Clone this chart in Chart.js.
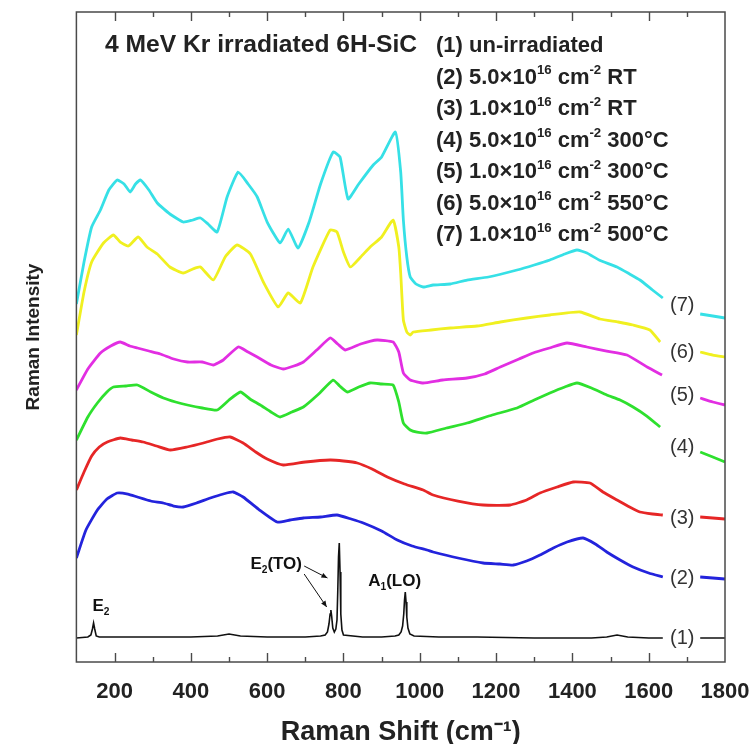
<!DOCTYPE html>
<html><head><meta charset="utf-8">
<script src="https://cdn.jsdelivr.net/npm/chart.js@4.4.1/dist/chart.umd.min.js"></script>
<style>html,body{margin:0;padding:0;background:#fff}</style>
</head><body>
<canvas id="c" width="756" height="744"></canvas>
<script>
// ---------- data (x = Raman shift cm-1, y = offset intensity, arb. units) ----------
const tickValues = [200, 400, 600, 800, 1000, 1200, 1400, 1600, 1800];
const endX = [1735, 1768, 1800];

const x7 = [100,120,140,163,185,207,225,241,255,268,290,312,345,380,405,425,445,469,495,524,550,574,600,634,655,681,710,740,773,791,812,840,878,900,936,950,957,966,975,990,1009,1035,1080,1124,1180,1255,1300,1341,1380,1412,1438,1470,1517,1550,1577,1610,1637];
const y7 = [358,400,435,452,472,482,478,470,478,482,472,459,448,440,442,444,438,430,465,490,478,465,440,419,433,414,440,478,510,505,463,478,497,505,530,490,442,405,385,378,375,377,378,382,385,392,397,402,408,412,409,402,395,388,382,372,364];
const end7 = [348, 346, 344];

const x6 = [100,120,140,171,197,215,236,262,285,312,345,380,405,425,459,490,521,556,590,629,655,687,720,765,783,800,818,845,870,900,930,945,950,957,966,975,983,1030,1080,1150,1211,1280,1341,1420,1472,1520,1559,1603,1630];
const y6 = [327,370,400,419,427,420,416,425,415,408,395,389,393,395,382,405,417,408,380,355,369,359,395,432,430,410,395,405,415,425,442,415,389,342,330,327,330,332,334,336,340,344,347,350,343,340,337,332,320];
const end6 = [310, 307, 305];

const x5 = [100,130,163,190,215,240,260,290,320,355,391,430,459,485,524,550,574,610,642,670,695,730,765,785,805,845,888,930,945,957,975,1009,1060,1124,1170,1211,1260,1297,1340,1386,1438,1490,1543,1596,1635];
const y5 = [272,293,309,316,320,316,314,311,308,303,300,300,297,302,315,310,305,297,293,296,300,312,324,318,312,318,322,320,310,289,282,279,282,284,288,295,303,309,314,319,315,311,307,295,287];
const end5 = [264, 260, 257];

const x4 = [100,130,155,180,197,230,260,295,328,360,391,430,469,500,530,555,582,610,634,665,695,735,773,790,810,840,870,900,930,945,957,975,993,1019,1070,1124,1190,1255,1300,1341,1380,1412,1450,1490,1525,1559,1595,1630];
const y4 = [222,245,259,270,275,276,277,270,264,260,257,254,252,262,270,263,257,250,245,250,255,268,282,276,270,275,279,278,277,260,239,232,230,229,234,239,247,254,262,269,275,279,274,267,262,255,246,235];
const end4 = [210, 205, 200];

const x3 = [100,120,140,160,181,215,245,275,310,346,390,433,470,503,537,570,600,642,700,765,800,836,875,915,960,1009,1035,1100,1166,1237,1280,1315,1360,1402,1446,1480,1517,1550,1577,1610,1637];
const y3 = [172,190,206,215,220,224,222,220,216,212,215,219,223,225,219,210,203,197,200,202,201,199,193,185,178,172,167,161,157,157,162,169,175,180,179,170,162,155,150,148,147];
const end3 = [145, 144, 143];

const x2 = [100,125,155,180,207,235,260,295,328,355,380,415,451,485,511,537,580,626,660,695,740,783,820,852,900,941,980,1019,1035,1100,1166,1210,1245,1280,1315,1350,1386,1428,1460,1490,1525,1559,1600,1637];
const y2 = [104,132,152,163,169,168,165,161,159,156,155,159,164,168,170,165,152,140,142,144,145,147,143,139,131,122,116,112,110,104,99,98,97,101,107,114,120,124,118,110,102,95,89,85];
const end2 = [85, 84, 83];

const x1 = [100,130,138,142,145,148,152,160,200,300,400,470,500,530,600,700,740,752,758,762,765,767,769,772,776,780,783,785,787,789,791,793,796,800,850,900,935,945,951,955,958,960,962,964,966,969,974,985,1050,1150,1300,1450,1490,1517,1545,1600,1637];
const y1 = [24,25,27,33,39,33,26,25,25,25,25,26,28,26,25,25,26,27,30,38,48,52,46,34,30,33,42,70,105,119,90,48,32,27,25,25,26,27,30,36,48,62,70,60,45,34,28,26,25,25,24,24,25,27,25,24,24];
const end1 = [24, 24, 24];

const curveLabels = ['(1)', '(2)', '(3)', '(4)', '(5)', '(6)', '(7)'];
const curveLabelY = [24, 84, 144, 215, 267, 310, 357];
const curveLabelX = 1688;

// ---------- build ----------
function series(xs, ys, ends) {
  const pts = xs.map((x, i) => ({ x: x, y: ys[i] }));
  pts.push({ x: 1700, y: null });
  endX.forEach((x, i) => pts.push({ x: x, y: ends[i] }));
  return pts;
}
const colors = ['#111111', '#2323dc', '#e62626', '#2ee02e', '#e22ee2', '#f0f020', '#36e0e6'];
const allX = [x1, x2, x3, x4, x5, x6, x7];
const allY = [y1, y2, y3, y4, y5, y6, y7];
const allEnd = [end1, end2, end3, end4, end5, end6, end7];
const datasets = allX.map((xs, i) => ({
  label: curveLabels[i],
  data: series(xs, allY[i], allEnd[i]),
  borderColor: colors[i],
  borderWidth: i === 0 ? 1.6 : 2.8,
  pointRadius: 0,
  tension: i === 0 ? 0 : 0.15,
  spanGaps: false,
  fill: false
}));

const FONT = '"Liberation Sans", Arial, Helvetica, sans-serif';

function drawRich(ctx, parts, x, y, size, weight, color, fitWidth) {
  ctx.save();
  ctx.textBaseline = 'alphabetic';
  ctx.textAlign = 'left';
  ctx.fillStyle = color;
  let w = 0;
  for (const p of parts) {
    const s = (p.sup || p.sub) ? size * 0.6 : size;
    ctx.font = weight + ' ' + s + 'px ' + FONT;
    w += ctx.measureText(p.t).width;
  }
  const sx = fitWidth ? fitWidth / w : 1;
  ctx.translate(x, y);
  ctx.scale(sx, 1);
  let cx = 0;
  for (const p of parts) {
    let s = size, dy = 0;
    if (p.sup) { s = size * 0.6; dy = -size * 0.42; }
    if (p.sub) { s = size * 0.6; dy = size * 0.22; }
    ctx.font = weight + ' ' + s + 'px ' + FONT;
    ctx.fillText(p.t, cx, dy);
    cx += ctx.measureText(p.t).width;
  }
  ctx.restore();
}

function arrow(ctx, x0, y0, x1, y1) {
  ctx.beginPath(); ctx.moveTo(x0, y0); ctx.lineTo(x1, y1); ctx.stroke();
  const a = Math.atan2(y1 - y0, x1 - x0), L = 6, W = 2.6;
  ctx.beginPath();
  ctx.moveTo(x1, y1);
  ctx.lineTo(x1 - L * Math.cos(a) + W * Math.sin(a), y1 - L * Math.sin(a) - W * Math.cos(a));
  ctx.lineTo(x1 - L * Math.cos(a) - W * Math.sin(a), y1 - L * Math.sin(a) + W * Math.cos(a));
  ctx.closePath(); ctx.fill();
}

const legendRows = [
  [{ t: '(1) un-irradiated' }],
  [{ t: '(2) 5.0\u00d710' }, { t: '16', sup: 1 }, { t: ' cm' }, { t: '-2', sup: 1 }, { t: ' RT' }],
  [{ t: '(3) 1.0\u00d710' }, { t: '16', sup: 1 }, { t: ' cm' }, { t: '-2', sup: 1 }, { t: ' RT' }],
  [{ t: '(4) 5.0\u00d710' }, { t: '16', sup: 1 }, { t: ' cm' }, { t: '-2', sup: 1 }, { t: ' 300\u00b0C' }],
  [{ t: '(5) 1.0\u00d710' }, { t: '16', sup: 1 }, { t: ' cm' }, { t: '-2', sup: 1 }, { t: ' 300\u00b0C' }],
  [{ t: '(6) 5.0\u00d710' }, { t: '16', sup: 1 }, { t: ' cm' }, { t: '-2', sup: 1 }, { t: ' 550\u00b0C' }],
  [{ t: '(7) 1.0\u00d710' }, { t: '16', sup: 1 }, { t: ' cm' }, { t: '-2', sup: 1 }, { t: ' 500\u00b0C' }]
];

const decor = {
  id: 'decor',
  afterDatasetsDraw(chart) {
    const { ctx, chartArea: ca, scales: { x, y } } = chart;
    ctx.save();
    ctx.strokeStyle = '#4a4a4a';
    ctx.lineWidth = 1.5;
    ctx.strokeRect(ca.left, ca.top, ca.right - ca.left, ca.bottom - ca.top);
    ctx.lineWidth = 1.4;
    for (let v = 200; v < 1800; v += 100) {
      const px = Math.round(x.getPixelForValue(v)) + 0.5;
      const L = v % 200 === 0 ? 9 : 5;
      ctx.beginPath();
      ctx.moveTo(px, ca.bottom); ctx.lineTo(px, ca.bottom - L);
      ctx.moveTo(px, ca.top); ctx.lineTo(px, ca.top + L);
      ctx.stroke();
    }
    ctx.fillStyle = '#333';
    ctx.font = '20px ' + FONT;
    ctx.textAlign = 'center';
    ctx.textBaseline = 'middle';
    curveLabels.forEach((t, i) => {
      ctx.fillText(t, x.getPixelForValue(curveLabelX), y.getPixelForValue(curveLabelY[i]));
    });
    drawRich(ctx, [{ t: '4 MeV Kr irradiated 6H-SiC' }], 105, 52, 24, 'bold', '#222', 312);
    legendRows.forEach((row, i) => {
      drawRich(ctx, row, 436, 52 + i * 31.5, 22, 'bold', '#222');
    });
    drawRich(ctx, [{ t: 'E' }, { t: '2', sub: 1 }], x.getPixelForValue(142), y.getPixelForValue(51), 17, 'bold', '#111');
    drawRich(ctx, [{ t: 'E' }, { t: '2', sub: 1 }, { t: '(TO)' }], x.getPixelForValue(556), y.getPixelForValue(93), 17, 'bold', '#111');
    drawRich(ctx, [{ t: 'A' }, { t: '1', sub: 1 }, { t: '(LO)' }], x.getPixelForValue(865), y.getPixelForValue(76), 17, 'bold', '#111');
    ctx.strokeStyle = '#111'; ctx.fillStyle = '#111'; ctx.lineWidth = 1;
    arrow(ctx, x.getPixelForValue(697), y.getPixelForValue(96), x.getPixelForValue(758), y.getPixelForValue(84));
    arrow(ctx, x.getPixelForValue(697), y.getPixelForValue(88), x.getPixelForValue(756), y.getPixelForValue(55));
    ctx.restore();
  }
};

new Chart(document.getElementById('c'), {
  type: 'line',
  data: { datasets: datasets },
  plugins: [decor],
  options: {
    responsive: false,
    animation: false,
    devicePixelRatio: 1,
    layout: { padding: { left: 0, right: 31, top: 12, bottom: 0 } },
    plugins: { legend: { display: false }, tooltip: { enabled: false } },
    scales: {
      x: {
        type: 'linear', min: 100, max: 1800,
        afterBuildTicks: (axis) => { axis.ticks = tickValues.map(v => ({ value: v })); },
        grid: { display: false, drawTicks: false },
        border: { display: false },
        ticks: { autoSkip: false, maxRotation: 0, padding: 2, color: '#222',
                 callback: (v) => String(v),
                 font: { family: FONT, size: 22, weight: 'bold', lineHeight: 2.545 } },
        title: { display: true, text: 'Raman Shift (cm\u207b\u00b9)', color: '#222', padding: 0,
                 font: { family: FONT, size: 27, weight: 'bold', lineHeight: 0.815 } }
      },
      y: {
        type: 'linear', min: 0, max: 650,
        grid: { display: false, drawTicks: false },
        border: { display: false },
        ticks: { display: false },
        title: { display: true, text: 'Raman Intensity', color: '#222', padding: { top: 22, bottom: 31.6 },
                 font: { family: FONT, size: 19, weight: 'bold', lineHeight: 1.2 } }
      }
    }
  }
});
</script>
</body></html>
